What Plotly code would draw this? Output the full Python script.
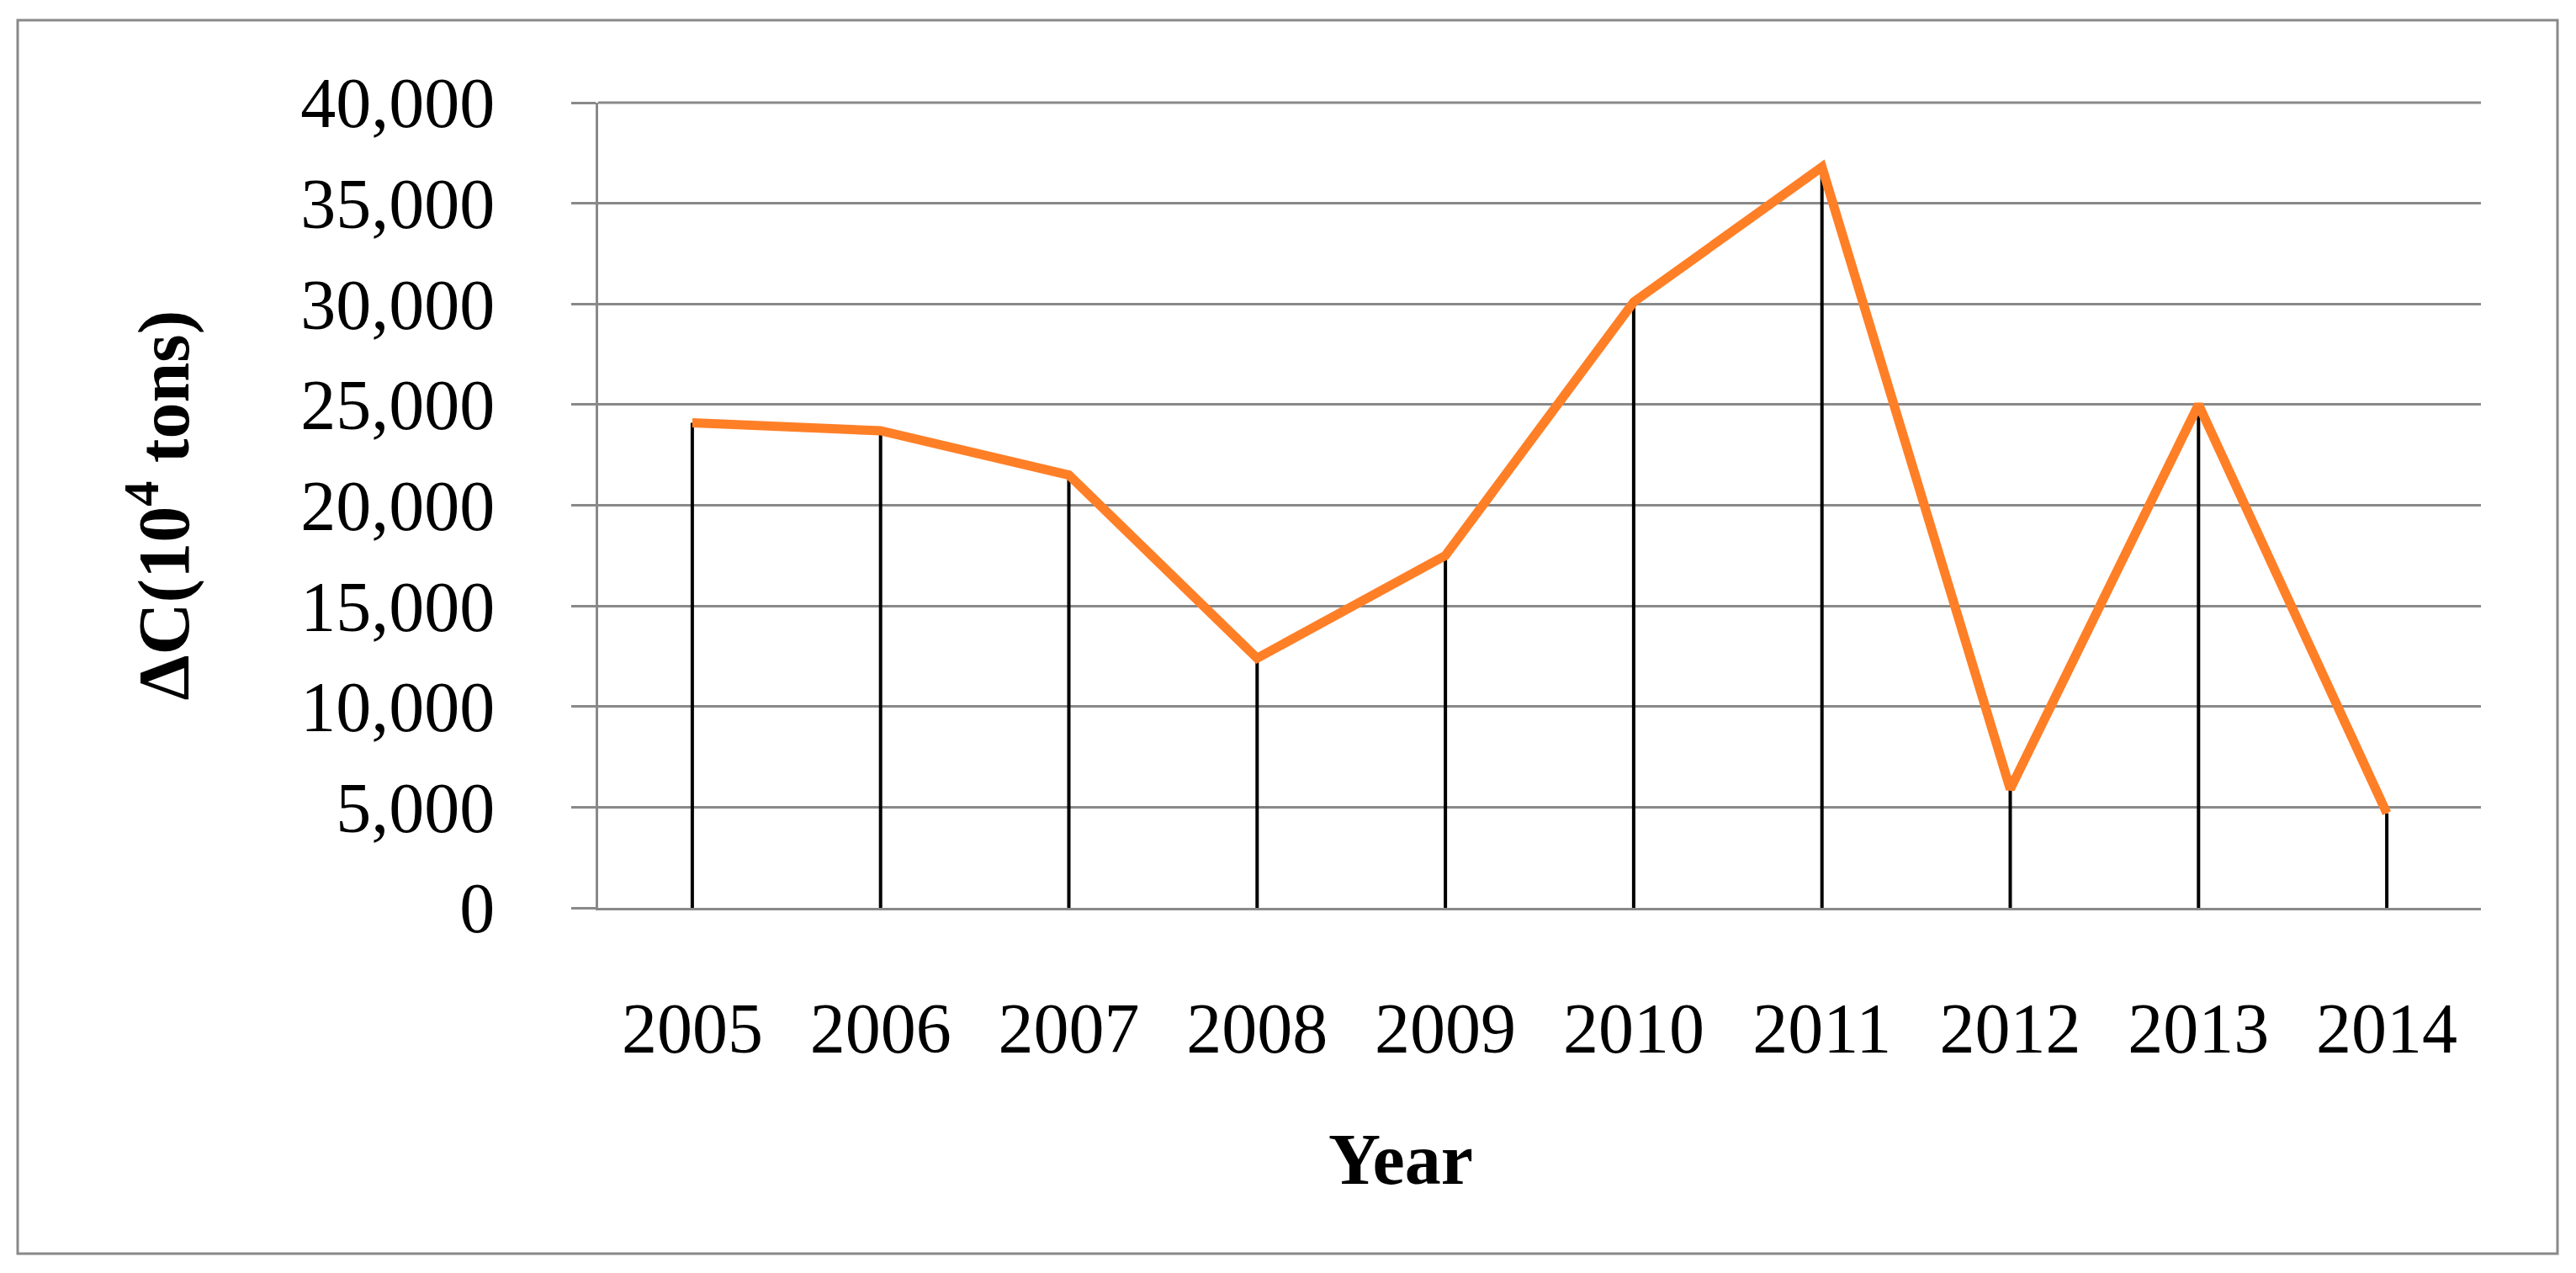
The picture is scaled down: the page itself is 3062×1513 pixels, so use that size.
import plotly.graph_objects as go

years = ["2005", "2006", "2007", "2008", "2009", "2010", "2011", "2012", "2013", "2014"]
delta_c = [24100, 23700, 21500, 12400, 17500, 30100, 36800, 5900, 25000, 4700]
y_ticks = [0, 5000, 10000, 15000, 20000, 25000, 30000, 35000, 40000]
y_tick_text = ["0", "5,000", "10,000", "15,000", "20,000", "25,000", "30,000", "35,000", "40,000"]

W, H = 3062, 1513
L, R, T, B = 711, 113, 122, 434
pw = W - L - R
ph = H - T - B

GRAY = "#898989"
ORANGE = "#FF7F27"
FONT = "Liberation Serif, Times New Roman, serif"

# drop lines from each point to the axis
stem_x, stem_y = [], []
for yr, v in zip(years, delta_c):
    stem_x += [yr, yr, None]
    stem_y += [0, v, None]

fig = go.Figure()
fig.add_trace(go.Scatter(x=stem_x, y=stem_y, mode="lines",
                         line=dict(color="black", width=4),
                         hoverinfo="skip", showlegend=False))
fig.add_trace(go.Scatter(x=years, y=delta_c, mode="lines",
                         line=dict(color=ORANGE, width=11),
                         showlegend=False))

def px_x(p):
    return (p - L) / pw

def px_y(p):
    return (H - B - p) / ph

fig.update_layout(
    width=W, height=H,
    margin=dict(l=L, r=R, t=T, b=B, pad=0),
    paper_bgcolor="white", plot_bgcolor="white",
    font=dict(family=FONT, size=84, color="black"),
    xaxis=dict(type="category", categoryorder="array", categoryarray=years,
               range=[-0.5, len(years) - 0.5],
               showgrid=False, zeroline=False,
               showline=True, linecolor=GRAY, linewidth=3,
               ticks="", ticklabelstandoff=68,
               tickfont=dict(family=FONT, size=84, color="black")),
    yaxis=dict(range=[y_ticks[0], y_ticks[-1]], tickvals=y_ticks, ticktext=y_tick_text,
               showgrid=True, gridcolor=GRAY, gridwidth=3,
               zeroline=False,
               showline=True, linecolor=GRAY, linewidth=3,
               ticks="outside", ticklen=29, tickwidth=3, tickcolor=GRAY,
               ticklabelstandoff=74,
               tickfont=dict(family=FONT, size=84, color="black")),
    shapes=[
        dict(type="rect", xref="paper", yref="paper",
             x0=px_x(21), x1=px_x(3040), y0=px_y(1490), y1=px_y(24),
             line=dict(color=GRAY, width=3), fillcolor="rgba(0,0,0,0)",
             layer="below"),
        # top gridline at the range maximum (plotly omits the grid line on the range edge)
        dict(type="line", xref="paper", yref="paper",
             x0=0, x1=1, y0=1, y1=1,
             line=dict(color=GRAY, width=3), layer="below"),
    ],
    annotations=[
        dict(text="<b>ΔC(10<sup>4</sup> tons)</b>", xref="paper", yref="paper",
             x=px_x(188), y=0.5, xanchor="center", yanchor="middle",
             textangle=-90, showarrow=False,
             font=dict(family=FONT, size=86, color="black")),
        dict(text="<b>Year</b>", xref="paper", yref="paper",
             x=px_x(1665), y=px_y(1378), xanchor="center", yanchor="middle",
             showarrow=False,
             font=dict(family=FONT, size=86, color="black")),
    ],
)

fig.write_html("out.html", config={"displayModeBar": False},
               post_script="document.body.style.margin='0';")
